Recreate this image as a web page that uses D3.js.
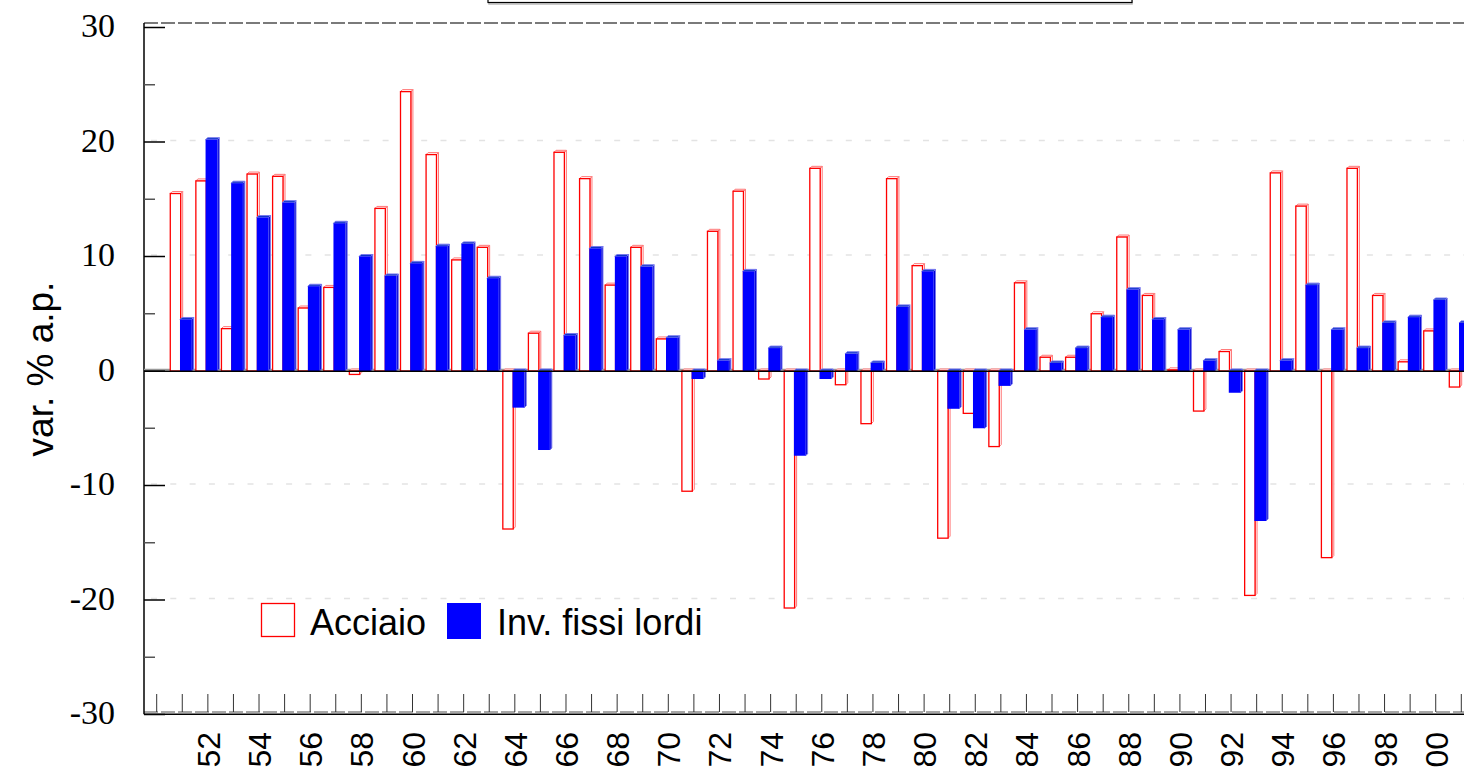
<!DOCTYPE html>
<html>
<head>
<meta charset="utf-8">
<script src="https://cdn.jsdelivr.net/npm/d3@7"></script>
<style>
  html, body { margin: 0; padding: 0; background: #fff; overflow: hidden; }
  svg { display: block; }
</style>
</head>
<body>
<div id="chart"></div>
<script>
// years shown on the x axis (1951 .. 2001)
const years = [1951, 1952, 1953, 1954, 1955, 1956, 1957, 1958, 1959, 1960,
    1961, 1962, 1963, 1964, 1965, 1966, 1967, 1968, 1969, 1970,
    1971, 1972, 1973, 1974, 1975, 1976, 1977, 1978, 1979, 1980,
    1981, 1982, 1983, 1984, 1985, 1986, 1987, 1988, 1989, 1990,
    1991, 1992, 1993, 1994, 1995, 1996, 1997, 1998, 1999, 2000, 2001];

// Acciaio, var. % a.p.
const acciaio = [15.5, 16.6, 3.7, 17.2, 17.0, 5.5, 7.3, -0.3, 14.2, 24.4,
    18.9, 9.7, 10.8, -13.8, 3.3, 19.1, 16.8, 7.5, 10.8, 2.8,
    -10.5, 12.2, 15.7, -0.7, -20.7, 17.7, -1.2, -4.6, 16.8, 9.2,
    -14.6, -3.7, -6.6, 7.7, 1.2, 1.2, 5.0, 11.7, 6.6, 0.1,
    -3.5, 1.7, -19.6, 17.3, 14.4, -16.3, 17.7, 6.6, 0.8, 3.5, -1.4];

// Investimenti fissi lordi, var. % a.p.
const investimenti = [4.5, 20.2, 16.4, 13.4, 14.7, 7.4, 12.9, 10.0, 8.3, 9.4,
    10.9, 11.1, 8.1, -3.2, -6.9, 3.1, 10.7, 10.0, 9.1, 2.9,
    -0.7, 0.9, 8.7, 2.0, -7.4, -0.7, 1.5, 0.7, 5.6, 8.7,
    -3.3, -5.0, -1.3, 3.6, 0.7, 2.0, 4.7, 7.1, 4.5, 3.6,
    0.9, -1.9, -13.1, 0.9, 7.5, 3.6, 2.0, 4.2, 4.7, 6.2, 4.2];

const yTicks = [-30, -20, -10, 0, 10, 20, 30];
const yMinorTicks = [-25, -15, -5, 5, 15, 25];
const xLabelYears = [1952, 1954, 1956, 1958, 1960, 1962, 1964, 1966, 1968, 1970,
    1972, 1974, 1976, 1978, 1980, 1982, 1984, 1986, 1988, 1990,
    1992, 1994, 1996, 1998, 2000];
const seriesNames = ["Acciaio", "Inv. fissi lordi"];

const W = 1464, H = 772;
const axisX = 144;

const svg = d3.select("#chart").append("svg")
    .attr("width", W)
    .attr("height", H);

// scales
const x = d3.scaleLinear().domain([1950, 2001]).range([156.7, 1461.3]);
const y = d3.scaleLinear().domain([-30, 30]).range([714.5, 27.5]);

// cut-off title box at the very top
svg.append("rect")
    .attr("x", 489).attr("y", -20)
    .attr("width", 643).attr("height", 24)
    .attr("fill", "none").attr("stroke", "#bbb").attr("stroke-width", 1.5);
svg.append("rect")
    .attr("x", 488).attr("y", -20)
    .attr("width", 644).attr("height", 22.5)
    .attr("fill", "#fff").attr("stroke", "#000").attr("stroke-width", 1.2);

// light dashed grid lines
svg.append("g")
    .selectAll("line")
    .data([20, 10, -10, -20])
    .enter().append("line")
    .attr("x1", 151).attr("x2", W)
    .attr("y1", d => y(d) - 1.5).attr("y2", d => y(d) - 1.5)
    .attr("stroke", "#e3e3e3")
    .attr("stroke-width", 1.5)
    .attr("stroke-dasharray", "6,13.3");

// top frame line
svg.append("line")
    .attr("x1", axisX).attr("x2", W)
    .attr("y1", 23).attr("y2", 23)
    .attr("stroke", "#7a7a7a").attr("stroke-width", 2)
    .attr("stroke-dasharray", "14,3");

// bottom frame (gray dashed + black)
svg.append("line")
    .attr("x1", axisX).attr("x2", W)
    .attr("y1", 712).attr("y2", 712)
    .attr("stroke", "#8a8a8a").attr("stroke-width", 1.5)
    .attr("stroke-dasharray", "14,3");
svg.append("line")
    .attr("x1", axisX).attr("x2", W)
    .attr("y1", 714.3).attr("y2", 714.3)
    .attr("stroke", "#000").attr("stroke-width", 1.5);

// x ticks (one per year, pointing up from the bottom line)
svg.append("g")
    .selectAll("line")
    .data([1950, ...years])
    .enter().append("line")
    .attr("x1", d => x(d)).attr("x2", d => x(d))
    .attr("y1", 694).attr("y2", 712)
    .attr("stroke", "#333").attr("stroke-width", 1);

// x labels
svg.append("g")
    .selectAll("text")
    .data(xLabelYears)
    .enter().append("text")
    .attr("transform", d => `translate(${x(d) + 0.5},732) rotate(-90)`)
    .attr("text-anchor", "end")
    .attr("dy", "0.36em")
    .attr("font-family", "'Liberation Sans', Arial, sans-serif")
    .attr("font-size", 32)
    .attr("fill", "#000")
    .text(d => String(d).slice(2));

// left axis
svg.append("line")
    .attr("x1", axisX).attr("x2", axisX)
    .attr("y1", 23).attr("y2", 714.3)
    .attr("stroke", "#000").attr("stroke-width", 1.5);

svg.append("g")
    .selectAll("line")
    .data(yTicks)
    .enter().append("line")
    .attr("x1", axisX).attr("x2", 165)
    .attr("y1", d => y(d)).attr("y2", d => y(d))
    .attr("stroke", "#000").attr("stroke-width", 1.5);

svg.append("g")
    .selectAll("line")
    .data(yMinorTicks)
    .enter().append("line")
    .attr("x1", axisX).attr("x2", 155)
    .attr("y1", d => y(d)).attr("y2", d => y(d))
    .attr("stroke", "#555").attr("stroke-width", 1.5);

svg.append("g")
    .selectAll("text")
    .data(yTicks)
    .enter().append("text")
    .attr("x", 115)
    .attr("y", d => y(d) - 2)
    .attr("dy", "0.35em")
    .attr("text-anchor", "end")
    .attr("font-family", "'Liberation Serif', 'Times New Roman', serif")
    .attr("font-size", 34)
    .attr("fill", "#000")
    .text(d => d);

// y axis title
svg.append("text")
    .attr("transform", "translate(40,369) rotate(-90)")
    .attr("text-anchor", "middle")
    .attr("dy", "0.35em")
    .attr("font-family", "'Liberation Sans', Arial, sans-serif")
    .attr("font-size", 37)
    .attr("fill", "#000")
    .text("var. % a.p.");

// zero line (gray floor + black)
svg.append("line")
    .attr("x1", axisX).attr("x2", W)
    .attr("y1", y(0) - 1.5).attr("y2", y(0) - 1.5)
    .attr("stroke", "#999").attr("stroke-width", 1.5);

// 3D-ish bars
const depth = 2;
const drawBars = (values, off0, off1, style) => {
    const g = svg.append("g");
    const data = years.map((yr, i) => {
        const cx = x(yr);
        const x0 = cx + off0, x1 = cx + off1;
        const top = Math.min(y(0), y(values[i]));
        const bot = Math.max(y(0), y(values[i]));
        return { x0, x1, top, bot };
    });
    const bar = g.selectAll("g").data(data).enter().append("g");
    // side face
    bar.append("polygon")
        .attr("points", d => `${d.x1},${d.top} ${d.x1 + depth},${d.top - depth} ${d.x1 + depth},${d.bot - depth} ${d.x1},${d.bot}`)
        .attr("fill", style.side)
        .attr("stroke", style.sideStroke)
        .attr("stroke-width", 1);
    // top face
    bar.append("polygon")
        .attr("points", d => `${d.x0},${d.top} ${d.x0 + depth},${d.top - depth} ${d.x1 + depth},${d.top - depth} ${d.x1},${d.top}`)
        .attr("fill", style.topFill)
        .attr("stroke", style.sideStroke)
        .attr("stroke-width", 1);
    // front face
    bar.append("rect")
        .attr("x", d => d.x0)
        .attr("y", d => d.top)
        .attr("width", d => d.x1 - d.x0)
        .attr("height", d => Math.max(0.5, d.bot - d.top))
        .attr("fill", style.fill)
        .attr("stroke", style.stroke)
        .attr("stroke-width", style.strokeWidth);
};

drawBars(acciaio, -12, -1.6, {
    fill: "#fff", stroke: "#ff0000", strokeWidth: 1.3,
    side: "#fff", topFill: "#fff", sideStroke: "#ff7777"
});
drawBars(investimenti, -2.3, 9.4, {
    fill: "#0000ff", stroke: "none", strokeWidth: 0,
    side: "#0000d8", topFill: "#0a34c8", sideStroke: "#7777ee"
});

svg.append("line")
    .attr("x1", axisX).attr("x2", W)
    .attr("y1", y(0) + 0.3).attr("y2", y(0) + 0.3)
    .attr("stroke", "#000").attr("stroke-width", 1.5);

// legend
const legend = svg.append("g");
legend.append("rect")
    .attr("x", 261.5).attr("y", 603.5)
    .attr("width", 33).attr("height", 33)
    .attr("fill", "#fff").attr("stroke", "#ff0000").attr("stroke-width", 1.3);
legend.append("text")
    .attr("x", 310).attr("y", 635)
    .attr("font-family", "'Liberation Sans', Arial, sans-serif")
    .attr("font-size", 36)
    .text(seriesNames[0]);
legend.append("rect")
    .attr("x", 447).attr("y", 603)
    .attr("width", 34).attr("height", 36)
    .attr("fill", "#0000ff");
legend.append("text")
    .attr("x", 497).attr("y", 635)
    .attr("font-family", "'Liberation Sans', Arial, sans-serif")
    .attr("font-size", 36)
    .text(seriesNames[1]);
</script>
</body>
</html>
